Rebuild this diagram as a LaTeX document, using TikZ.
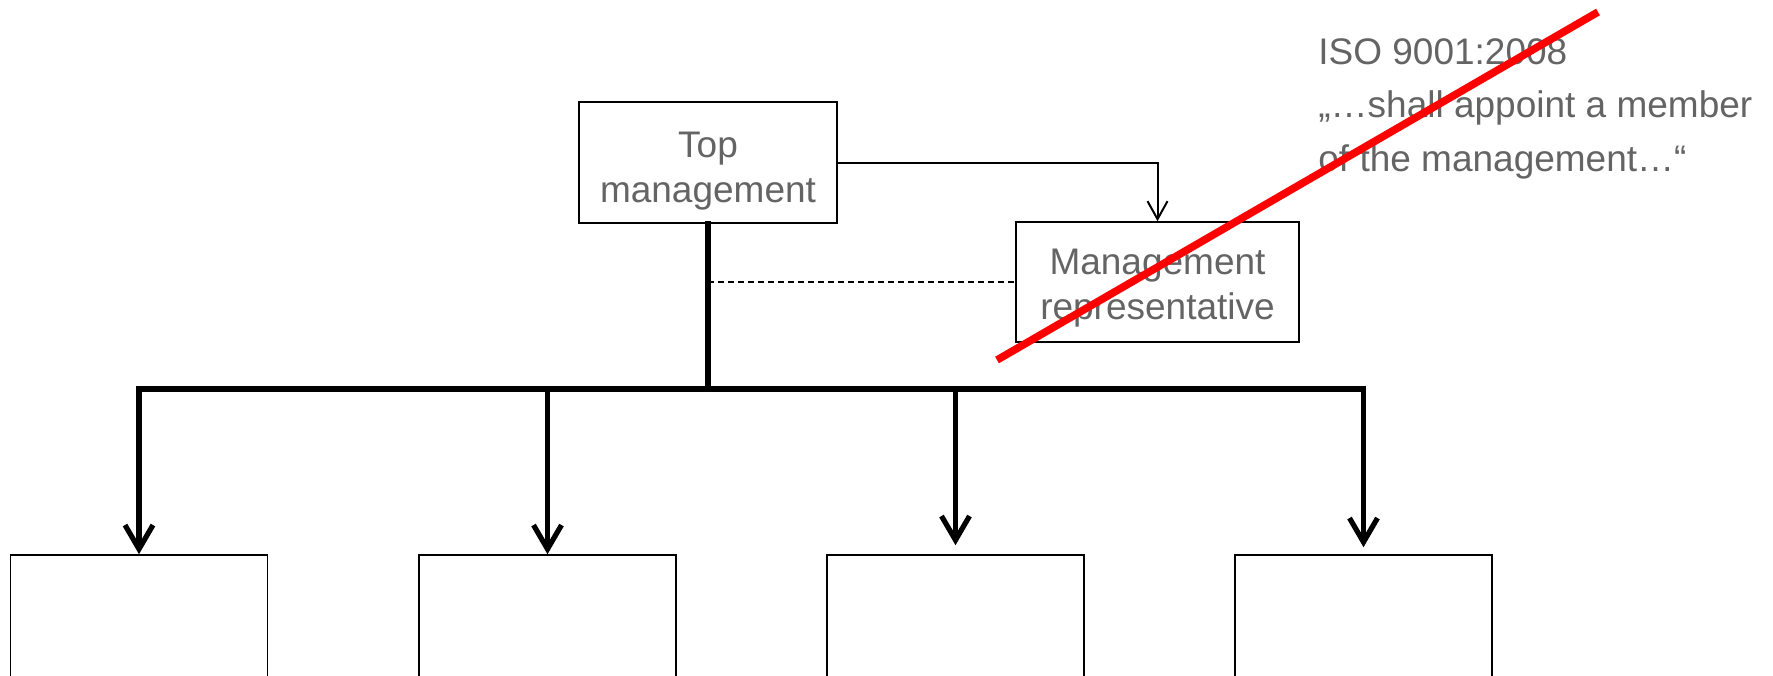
\documentclass[tikz,border=0pt]{standalone}
\usepackage{fontspec}
\setmainfont{Liberation Sans}
\usetikzlibrary{arrows.meta}
\definecolor{textgray}{RGB}{100,100,100}
\tikzset{
    box/.style={draw, line width=0.8pt, inner sep=0pt, align=center, text=textgray,
        font=\fontsize{18.5}{22.5}\selectfont},
    textbox/.style={box, text height=#1},
    trunk/.style={line width=2.6pt, line cap=rect},
    bigtip/.style={-{Straight Barb[length=12pt,width=14pt,line width=2.6pt]}},
    smalltip/.style={line width=1pt, -{Straight Barb[length=9pt,width=10pt,line width=1pt]}},
    strike/.style={red, line width=3.8pt},
    note/.style={inner sep=0pt, align=left, text=textgray,
        font=\fontsize{18.5}{26.7}\selectfont}
}
\begin{document}
\begin{tikzpicture}[x=0.5pt,y=-0.5pt]
            \useasboundingbox (0,0) rectangle (1773,675);
            \clip (0,0) rectangle (1773,675);

            \coordinate (bus) at (708,389);\coordinate (S) at (997,360);\coordinate (T) at (1598,12);

            \node[textbox=44pt, minimum width=129pt, minimum height=60.5pt] (top) at (708,162.5) {Top\\management};
            \node[textbox=41.5pt, minimum width=141.5pt, minimum height=60pt] (rep) at (1157.5,282) {Management\\representative};

            % empty boxes at the bottom edge
            \foreach \i/\x in {1/139, 2/547.5, 3/955.5, 4/1363.5} {
                \node[box, minimum width=128.5pt, minimum height=100pt] (b\i) at (\x,655) {};
            }

            \draw[smalltip] (top.east) -| (rep.north);
            \draw[line width=1pt, dash pattern=on 3pt off 2pt] (top.south |- rep.west) -- (rep.west);

            \draw[trunk] (top.south) -- (bus);
            \draw[trunk] (b1.north |- bus) -- (b4.north |- bus);
            \foreach \i/\s in {1/0, 2/0, 3/4.5, 4/3.5} {
                \draw[trunk, bigtip, shorten >=\s pt] (b\i.north |- bus) -- (b\i.north);
            }

            \node[note, anchor=north west] (iso) at (1318,38) {ISO 9001:2008\\„…shall appoint a member\\of the management…“};

            \draw[strike] (S) -- (T);
        \end{tikzpicture}
\end{document}
